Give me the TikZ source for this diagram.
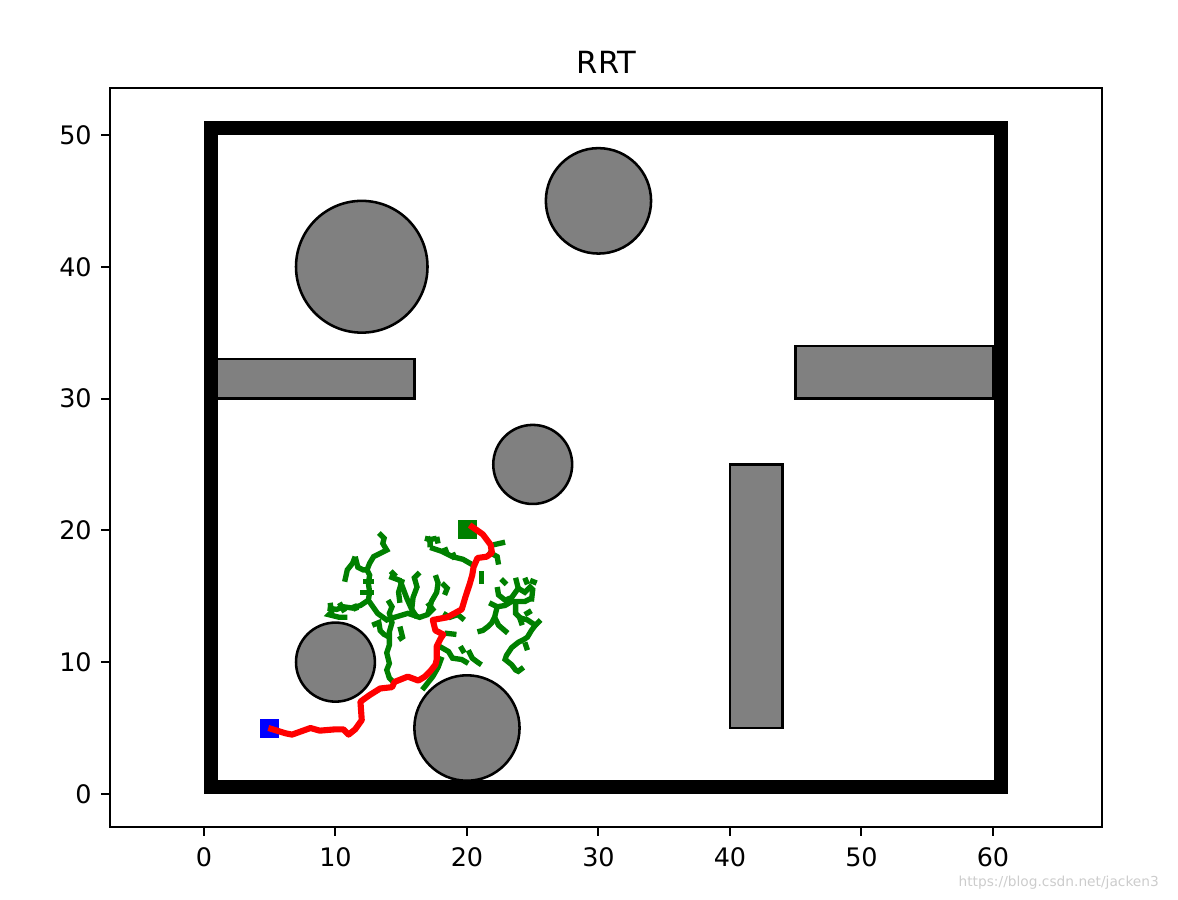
\documentclass[tikz,border=0pt]{standalone}
\usepackage{fontspec}
\setmainfont{DejaVu Sans}
\usepackage{tikz}
\usetikzlibrary{positioning}

\definecolor{mplgreen}{RGB}{0,128,0}

\begin{document}
\begin{tikzpicture}[
    x=0.1815cm, y=0.1819cm,
    axis/.style={line width=0.8pt},
    ticklabel/.style={inner sep=0pt, font=\fontsize{10}{12}\selectfont},
    obstacle/.style={draw=black, fill=gray, line width=1pt},
    wall/.style={draw=black, line width=5.5pt},
    branch/.style={mplgreen, line width=2.1pt},
    route/.style={red, line width=2.4pt, line join=round},
    marker/.style={rectangle, inner sep=0pt, minimum size=0.262cm}
]
\useasboundingbox (-15.51,-8.04) rectangle (74.07,60.24);

% axes
\draw[axis] (-7.15,-2.5) rectangle (68.3,53.56);
\foreach \x in {0,10,...,60} {
    \draw[axis] (\x,-2.5) -- (\x,-3.18);
    \node[ticklabel, anchor=north] (xt\x) at (\x,-4.05) {\x};
}
\foreach \y in {0,10,...,50} {
    \draw[axis] (-7.15,\y) -- (-7.83,\y);
    \node[ticklabel, anchor=east] (yt\y) at (-8.5,\y) {\y};
}
\node[anchor=base, font=\fontsize{12}{14}\selectfont] (title) at (30.6,54.7) {RRT};

% obstacles
\draw[obstacle] (12,40) circle (5);
\draw[obstacle] (30,45) circle (4);
\draw[obstacle] (25,25) circle (3);
\draw[obstacle] (10,10) circle (3);
\draw[obstacle] (20,5) circle (4);
\draw[obstacle] (1,30) rectangle (16,33);
\draw[obstacle] (45,30) rectangle (60,34);
\draw[obstacle] (40,5) rectangle (44,25);
\draw[wall] (0.53,0.53) rectangle (60.6,50.5);

% tree
\draw[branch] (13.3,19.8) -- (13.7,19.4) -- (13.6,19.0) -- (13.9,18.5) -- (13.5,18.3) -- (12.9,18.0) -- (12.6,17.5) -- (12.4,17.0) -- (12.6,16.6) -- (12.5,16.0) -- (12.6,15.3) -- (12.5,14.7) -- (13.2,13.7) -- (13.9,13.2) -- (14.5,13.4) -- (15.5,13.7) -- (16.4,13.4) -- (17.0,13.6) -- (17.4,14.0) -- (17.0,14.5);
\draw[branch] (11.5,18.0) -- (11.3,17.5) -- (10.9,17.0) -- (10.7,16.1);
\draw[branch] (11.5,18.0) -- (11.7,17.2) -- (12.1,17.0) -- (12.4,17.0);
\draw[branch] (12.1,16.1) -- (12.9,16.1);
\draw[branch] (11.9,15.3) -- (12.9,15.3);
\draw[branch] (9.4,14.1) -- (10.1,14.0) -- (10.6,14.2) -- (11.3,14.1) -- (11.9,14.3) -- (12.5,14.7);
\draw[branch] (9.6,14.5) -- (9.7,13.8) -- (9.5,13.6) -- (10.3,13.4) -- (10.9,13.4);
\draw[branch] (10.3,14.5) -- (10.7,13.8);
\draw[branch] (11.4,14.4) -- (11.6,13.9);
\draw[branch] (14.1,16.5) -- (14.9,16.2) -- (15.1,15.7) -- (15.4,14.9) -- (15.8,14.0) -- (16.2,13.4);
\draw[branch] (16.4,16.8) -- (16.0,16.4) -- (16.2,15.7) -- (15.9,14.9) -- (15.8,14.0);
\draw[branch] (15.1,16.3) -- (14.8,15.3) -- (14.9,14.5);
\draw[branch] (17.0,19.5) -- (17.2,19.1) -- (17.2,18.7);
\draw[branch] (17.6,16.6) -- (17.8,16.0) -- (17.7,15.3) -- (17.3,14.6) -- (17.2,14.2) -- (17.0,13.6);
\draw[branch] (18.1,16.0) -- (18.5,15.6) -- (18.3,15.1);
\draw[branch] (14.0,14.7) -- (14.3,14.2) -- (14.1,13.7) -- (14.3,13.0) -- (14.1,12.3) -- (14.1,11.9) -- (14.1,11.3) -- (13.9,10.7) -- (14.1,9.9) -- (13.9,9.4) -- (14.1,8.8) -- (14.4,8.5);
\draw[branch] (12.8,12.8) -- (13.3,13.0) -- (13.4,12.4) -- (13.7,12.1) -- (14.1,11.9);
\draw[branch] (16.8,19.4) -- (17.2,19.3) -- (17.7,19.4);
\draw[branch] (17.2,18.7) -- (18.1,18.4) -- (18.9,18.0) -- (19.7,17.8) -- (20.4,17.4);
\draw[branch] (17.7,19.5) -- (17.8,19.0);
\draw[branch] (18.3,18.7) -- (18.5,18.2);
\draw[branch] (18.9,18.3) -- (19.1,17.8);
\draw[branch] (22.0,18.9) -- (22.9,19.1);
\draw[branch] (21.6,18.4) -- (22.3,18.0) -- (22.4,17.4);
\draw[branch] (21.1,16.9) -- (21.1,15.9);
\draw[branch] (22.3,15.7) -- (22.4,15.1) -- (22.9,14.7) -- (23.4,14.9) -- (23.9,15.6) -- (24.4,15.3) -- (24.8,15.7) -- (25.0,15.5) -- (24.9,14.6);
\draw[branch] (23.7,16.4) -- (23.9,15.6);
\draw[branch] (24.4,16.4) -- (24.6,15.9);
\draw[branch] (22.6,16.3) -- (23.0,15.9);
\draw[branch] (24.8,16.2) -- (25.3,16.0);
\draw[branch] (21.7,14.5) -- (22.3,14.2) -- (22.9,14.3) -- (23.4,14.6) -- (24.4,14.6) -- (25.0,14.9);
\draw[branch] (22.3,14.2) -- (22.1,13.4) -- (21.9,13.0) -- (21.6,12.7) -- (21.2,12.4) -- (20.8,12.3);
\draw[branch] (22.1,13.4) -- (22.4,12.8) -- (23.1,12.2);
\draw[branch] (23.7,14.6) -- (23.7,13.7) -- (24.0,13.4) -- (24.2,12.8);
\draw[branch] (23.9,13.4) -- (24.6,13.2) -- (25.2,12.8) -- (24.9,12.4) -- (24.6,11.9) -- (24.3,11.7) -- (23.9,11.5) -- (23.4,11.1) -- (23.0,10.5) -- (22.9,10.2) -- (23.4,9.8) -- (23.7,9.4) -- (23.9,9.3) -- (24.3,9.6);
\draw[branch] (25.2,12.8) -- (25.6,13.2);
\draw[branch] (24.4,13.6) -- (24.9,13.9);
\draw[branch] (24.4,11.5) -- (24.6,10.9);
\draw[branch] (20.1,10.9) -- (20.4,10.3) -- (20.8,10.0) -- (21.1,9.8);
\draw[branch] (14.9,12.7) -- (15.1,11.9) -- (14.8,11.7);
\draw[branch] (18.2,13.7) -- (18.7,13.4) -- (19.3,13.6) -- (19.8,13.2);
\draw[branch] (18.3,12.2) -- (19.2,12.1);
\draw[branch] (17.9,11.2) -- (18.6,10.8) -- (18.9,10.3) -- (19.6,10.2) -- (20.1,9.9);
\draw[branch] (19.5,11.2) -- (19.8,10.7);
\draw[branch] (18.1,10.4) -- (17.8,9.6) -- (17.4,8.9) -- (17.0,8.4) -- (16.6,7.9);
\draw[branch] (14.2,16.9) -- (14.6,16.5);

% start and goal
\node[marker, fill=blue] (start) at (5,5) {};
\node[marker, fill=mplgreen] (goal) at (20.05,20.03) {};

% path
\draw[route] (4.9,5.0) -- (6.2,4.6) -- (6.7,4.5) -- (8.1,5.0) -- (8.8,4.8) -- (10.0,4.9) -- (10.6,4.9) -- (11.0,4.5) -- (11.5,4.9) -- (12.0,5.6) -- (11.9,7.0) -- (12.6,7.5) -- (13.4,8.0) -- (14.3,8.1) -- (14.5,8.5) -- (15.5,8.9) -- (16.3,8.6) -- (16.8,8.9) -- (17.2,9.3) -- (17.6,9.8) -- (17.7,10.2) -- (17.7,11.2) -- (18.0,11.8) -- (18.2,12.1) -- (17.6,12.4) -- (17.4,13.2) -- (18.5,13.4) -- (19.6,14.0) -- (19.9,15.0) -- (20.2,15.9) -- (20.4,16.6) -- (20.5,17.2) -- (20.8,17.9) -- (21.5,18.0) -- (21.9,18.3) -- (21.8,18.9) -- (21.2,19.7) -- (20.2,20.4);

\node[anchor=base east, gray!40, font=\fontsize{5.4}{6}\selectfont] (mark) at (73.3,-7.06) {https://blog.csdn.net/jacken3};
\end{tikzpicture}
\end{document}
